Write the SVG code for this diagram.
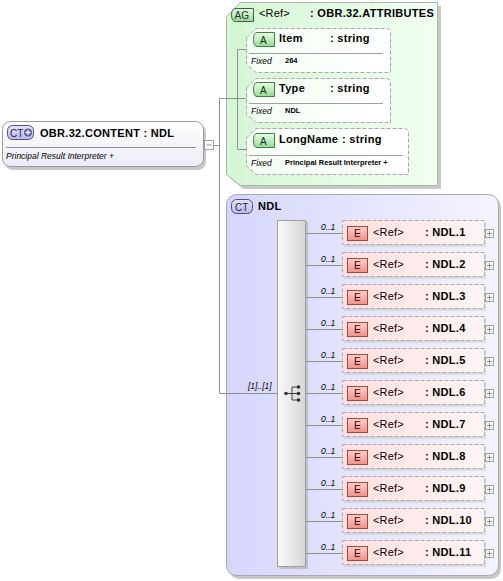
<svg xmlns="http://www.w3.org/2000/svg" width="503" height="581" viewBox="0 0 503 581">
<defs>
<linearGradient id="gMain" x1="0" y1="0" x2="0" y2="1"><stop offset="0" stop-color="#ffffff"/><stop offset="1" stop-color="#ececf8"/></linearGradient>
<linearGradient id="gAG" x1="0" y1="0" x2="1" y2="0"><stop offset="0" stop-color="#d4f6d4"/><stop offset="1" stop-color="#f2fff2"/></linearGradient>
<linearGradient id="gCT" x1="0" y1="0" x2="1" y2="0"><stop offset="0" stop-color="#d6d6fc"/><stop offset="1" stop-color="#f4f4ff"/></linearGradient>
<linearGradient id="gSeq" x1="0" y1="0" x2="1" y2="0"><stop offset="0" stop-color="#fafafa"/><stop offset="1" stop-color="#d6d6d6"/></linearGradient>
<linearGradient id="gEl" x1="0" y1="0" x2="1" y2="0"><stop offset="0" stop-color="#ffe0e0"/><stop offset="1" stop-color="#fff4f4"/></linearGradient>
<linearGradient id="gE" x1="0" y1="0" x2="0" y2="1"><stop offset="0" stop-color="#ffd0c8"/><stop offset="1" stop-color="#f09088"/></linearGradient>
<linearGradient id="gA" x1="0" y1="0" x2="0" y2="1"><stop offset="0" stop-color="#e8ffe8"/><stop offset="1" stop-color="#98d898"/></linearGradient>
<linearGradient id="gAt" x1="0" y1="0" x2="1" y2="0"><stop offset="0" stop-color="#f4fff4"/><stop offset="1" stop-color="#ffffff"/></linearGradient>
<linearGradient id="gCTb" x1="0" y1="0" x2="0" y2="1"><stop offset="0" stop-color="#e4e4ff"/><stop offset="1" stop-color="#b8b8e8"/></linearGradient>
</defs>
<style>
text{font-family:"Liberation Sans",Arial,sans-serif;fill:#000}
.t{font-size:11px;font-weight:bold;letter-spacing:0.3px}
.n{font-size:11px;letter-spacing:0.2px}
.it{font-size:8.5px;font-style:italic}
.fx{font-size:8.5px;font-style:italic}
.fv{font-size:7.5px;font-weight:bold}
.ln{stroke:#909090;stroke-width:1;fill:none}
.dash{stroke:#a8a8a8;stroke-width:1;stroke-dasharray:4,2}
.sh{fill:#c8c8c8}
.elb{fill:url(#gEl)}
.eb{fill:url(#gE);stroke:#a04848;stroke-width:1}
.ab{fill:url(#gA);stroke:#408040;stroke-width:1}
.pl{fill:#fff;stroke:#a0a0a0;stroke-width:1}
.pls{stroke:#909090;stroke-width:1}
</style>

<g id="main">
<rect x="5" y="124" width="201" height="46" rx="8" class="sh"/>
<rect x="2.5" y="121.5" width="201" height="45" rx="8" fill="url(#gMain)" stroke="#9a9a9a"/>
<line x1="6" y1="147.5" x2="196" y2="147.5" stroke="#909090"/>
<rect x="7.5" y="125.5" width="26" height="14" rx="5" fill="url(#gCTb)" stroke="#505080"/>
<text x="10" y="136.5" style="font-size:10px;fill:#202050">CT</text>
<circle cx="28" cy="132.5" r="4" fill="#6060a0"/>
<path d="M25.5,132.5 H30.5 M28,130 V135" stroke="#fff" stroke-width="1.3"/>
<text x="40" y="137" class="t">OBR.32.CONTENT : NDL</text>
<text x="6" y="159" class="it">Principal Result Interpreter +</text>
<rect x="204.5" y="140.5" width="9" height="9" class="pl"/>
<line x1="206.5" y1="145" x2="211.5" y2="145" class="pls"/>
</g>

<g id="attributes">
<path d="M230,20 L243,6 H441 V189 H243 L230,178 Z" class="sh"/>
<path d="M226.5,16.5 L240.5,2.5 H437.5 V185.5 H240.5 L226.5,174.5 Z" fill="url(#gAG)" stroke="#a8b8a8"/>
<path d="M236,8.5 H253.5 V21.5 H236 Q231.5,21.5 231.5,15 Q231.5,8.5 236,8.5 Z" fill="url(#gA)" stroke="#406040"/>
<text x="234.5" y="19" style="font-size:10px;fill:#203020">AG</text>
<text x="259" y="17" class="n">&lt;Ref&gt;</text>
<text x="310" y="17" class="t">: OBR.32.ATTRIBUTES</text>
</g>

<g id="attr-item">
<path d="M246.5,38 L256,28.5 H386 Q390.5,28.5 390.5,33 V72.5 H256 L246.5,64 Z" fill="url(#gAt)" class="dash"/>
<path d="M257,32.5 H274.5 V46.5 H257 Q253.5,46.5 253.5,39.5 Q253.5,32.5 257,32.5 Z" class="ab"/>
<text x="260" y="43.5" style="font-size:10px;fill:#103010">A</text>
<text x="279" y="42" class="t">Item</text>
<text x="330" y="42" class="t">: string</text>
<line x1="249" y1="53.5" x2="383" y2="53.5" stroke="#a0a0a0"/>
<text x="251" y="64" class="fx">Fixed</text>
<text x="285" y="63" class="fv">264</text>
</g>

<g id="attr-type">
<path d="M246.5,88 L256,78.5 H386 Q390.5,78.5 390.5,83 V122.5 H256 L246.5,114 Z" fill="url(#gAt)" class="dash"/>
<path d="M257,82.5 H274.5 V96.5 H257 Q253.5,96.5 253.5,89.5 Q253.5,82.5 257,82.5 Z" class="ab"/>
<text x="260" y="93.5" style="font-size:10px;fill:#103010">A</text>
<text x="279" y="92" class="t">Type</text>
<text x="330" y="92" class="t">: string</text>
<line x1="249" y1="103.5" x2="383" y2="103.5" stroke="#a0a0a0"/>
<text x="251" y="114" class="fx">Fixed</text>
<text x="285" y="113" class="fv">NDL</text>
</g>

<g id="attr-longname">
<path d="M246.5,138 L256,128.5 H404 Q408.5,128.5 408.5,133 V174.5 H256 L246.5,166 Z" fill="url(#gAt)" class="dash"/>
<path d="M257,133.5 H274.5 V147.5 H257 Q253.5,147.5 253.5,140.5 Q253.5,133.5 257,133.5 Z" class="ab"/>
<text x="260" y="144.5" style="font-size:10px;fill:#103010">A</text>
<text x="279" y="143" class="t">LongName</text>
<text x="342" y="143" class="t">: string</text>
<line x1="249" y1="155.5" x2="403" y2="155.5" stroke="#a0a0a0"/>
<text x="251" y="166" class="fx">Fixed</text>
<text x="285" y="165" class="fv">Principal Result Interpreter +</text>
</g>

<g id="ndl">
<rect x="229" y="197" width="272" height="382" rx="10" class="sh"/>
<rect x="226.5" y="194.5" width="272" height="381" rx="10" fill="url(#gCT)" stroke="#a8a8b8"/>
<rect x="231.5" y="199.5" width="21" height="14" rx="5" fill="url(#gCTb)" stroke="#505080"/>
<text x="235" y="210.5" style="font-size:10px;fill:#202050">CT</text>
<text x="258" y="210" class="t">NDL</text>
</g>

<g id="sequence">
<rect x="279" y="222" width="29" height="347" fill="#c0c0c0"/>
<rect x="277.5" y="220.5" width="28" height="346" fill="url(#gSeq)" stroke="#a0a0a0"/>
<text x="248" y="389" class="it">[1]..[1]</text>
<path d="M286,393.5 H292 M292,387 V400 M292,387 H298 M292,393.5 H298 M292,400 H298" stroke="#404040" stroke-width="1"/>
<circle cx="286" cy="393.5" r="1.8" fill="#303030"/>
<circle cx="298.5" cy="387" r="1.8" fill="#303030"/>
<circle cx="298.5" cy="393.5" r="1.8" fill="#303030"/>
<circle cx="298.5" cy="400" r="1.8" fill="#303030"/>
</g>

<g id="el1"><rect x="344" y="222" width="142" height="25" class="sh" opacity="0.5"/><rect x="342.5" y="220.5" width="142" height="24" class="elb"/><rect x="342.5" y="220.5" width="142" height="24" fill="none" class="dash"/><rect x="347.5" y="226.5" width="20" height="14" class="eb"/><text x="354" y="237" style="font-size:10px;fill:#400000">E</text><text x="373" y="236" class="n">&lt;Ref&gt;</text><text x="425" y="236" class="t">: NDL.1</text><text x="321" y="230" class="it">0..1</text><rect x="485.5" y="229.5" width="8" height="8" class="pl"/><path d="M487,233.5 H492 M489.5,231 V236" class="pls"/></g>
<g id="el2"><rect x="344" y="254" width="142" height="25" class="sh" opacity="0.5"/><rect x="342.5" y="252.5" width="142" height="24" class="elb"/><rect x="342.5" y="252.5" width="142" height="24" fill="none" class="dash"/><rect x="347.5" y="258.5" width="20" height="14" class="eb"/><text x="354" y="269" style="font-size:10px;fill:#400000">E</text><text x="373" y="268" class="n">&lt;Ref&gt;</text><text x="425" y="268" class="t">: NDL.2</text><text x="321" y="262" class="it">0..1</text><rect x="485.5" y="261.5" width="8" height="8" class="pl"/><path d="M487,265.5 H492 M489.5,263 V268" class="pls"/></g>
<g id="el3"><rect x="344" y="286" width="142" height="25" class="sh" opacity="0.5"/><rect x="342.5" y="284.5" width="142" height="24" class="elb"/><rect x="342.5" y="284.5" width="142" height="24" fill="none" class="dash"/><rect x="347.5" y="290.5" width="20" height="14" class="eb"/><text x="354" y="301" style="font-size:10px;fill:#400000">E</text><text x="373" y="300" class="n">&lt;Ref&gt;</text><text x="425" y="300" class="t">: NDL.3</text><text x="321" y="294" class="it">0..1</text><rect x="485.5" y="293.5" width="8" height="8" class="pl"/><path d="M487,297.5 H492 M489.5,295 V300" class="pls"/></g>
<g id="el4"><rect x="344" y="318" width="142" height="25" class="sh" opacity="0.5"/><rect x="342.5" y="316.5" width="142" height="24" class="elb"/><rect x="342.5" y="316.5" width="142" height="24" fill="none" class="dash"/><rect x="347.5" y="322.5" width="20" height="14" class="eb"/><text x="354" y="333" style="font-size:10px;fill:#400000">E</text><text x="373" y="332" class="n">&lt;Ref&gt;</text><text x="425" y="332" class="t">: NDL.4</text><text x="321" y="326" class="it">0..1</text><rect x="485.5" y="325.5" width="8" height="8" class="pl"/><path d="M487,329.5 H492 M489.5,327 V332" class="pls"/></g>
<g id="el5"><rect x="344" y="350" width="142" height="25" class="sh" opacity="0.5"/><rect x="342.5" y="348.5" width="142" height="24" class="elb"/><rect x="342.5" y="348.5" width="142" height="24" fill="none" class="dash"/><rect x="347.5" y="354.5" width="20" height="14" class="eb"/><text x="354" y="365" style="font-size:10px;fill:#400000">E</text><text x="373" y="364" class="n">&lt;Ref&gt;</text><text x="425" y="364" class="t">: NDL.5</text><text x="321" y="358" class="it">0..1</text><rect x="485.5" y="357.5" width="8" height="8" class="pl"/><path d="M487,361.5 H492 M489.5,359 V364" class="pls"/></g>
<g id="el6"><rect x="344" y="382" width="142" height="25" class="sh" opacity="0.5"/><rect x="342.5" y="380.5" width="142" height="24" class="elb"/><rect x="342.5" y="380.5" width="142" height="24" fill="none" class="dash"/><rect x="347.5" y="386.5" width="20" height="14" class="eb"/><text x="354" y="397" style="font-size:10px;fill:#400000">E</text><text x="373" y="396" class="n">&lt;Ref&gt;</text><text x="425" y="396" class="t">: NDL.6</text><text x="321" y="390" class="it">0..1</text><rect x="485.5" y="389.5" width="8" height="8" class="pl"/><path d="M487,393.5 H492 M489.5,391 V396" class="pls"/></g>
<g id="el7"><rect x="344" y="414" width="142" height="25" class="sh" opacity="0.5"/><rect x="342.5" y="412.5" width="142" height="24" class="elb"/><rect x="342.5" y="412.5" width="142" height="24" fill="none" class="dash"/><rect x="347.5" y="418.5" width="20" height="14" class="eb"/><text x="354" y="429" style="font-size:10px;fill:#400000">E</text><text x="373" y="428" class="n">&lt;Ref&gt;</text><text x="425" y="428" class="t">: NDL.7</text><text x="321" y="422" class="it">0..1</text><rect x="485.5" y="421.5" width="8" height="8" class="pl"/><path d="M487,425.5 H492 M489.5,423 V428" class="pls"/></g>
<g id="el8"><rect x="344" y="446" width="142" height="25" class="sh" opacity="0.5"/><rect x="342.5" y="444.5" width="142" height="24" class="elb"/><rect x="342.5" y="444.5" width="142" height="24" fill="none" class="dash"/><rect x="347.5" y="450.5" width="20" height="14" class="eb"/><text x="354" y="461" style="font-size:10px;fill:#400000">E</text><text x="373" y="460" class="n">&lt;Ref&gt;</text><text x="425" y="460" class="t">: NDL.8</text><text x="321" y="454" class="it">0..1</text><rect x="485.5" y="453.5" width="8" height="8" class="pl"/><path d="M487,457.5 H492 M489.5,455 V460" class="pls"/></g>
<g id="el9"><rect x="344" y="478" width="142" height="25" class="sh" opacity="0.5"/><rect x="342.5" y="476.5" width="142" height="24" class="elb"/><rect x="342.5" y="476.5" width="142" height="24" fill="none" class="dash"/><rect x="347.5" y="482.5" width="20" height="14" class="eb"/><text x="354" y="493" style="font-size:10px;fill:#400000">E</text><text x="373" y="492" class="n">&lt;Ref&gt;</text><text x="425" y="492" class="t">: NDL.9</text><text x="321" y="486" class="it">0..1</text><rect x="485.5" y="485.5" width="8" height="8" class="pl"/><path d="M487,489.5 H492 M489.5,487 V492" class="pls"/></g>
<g id="el10"><rect x="344" y="510" width="142" height="25" class="sh" opacity="0.5"/><rect x="342.5" y="508.5" width="142" height="24" class="elb"/><rect x="342.5" y="508.5" width="142" height="24" fill="none" class="dash"/><rect x="347.5" y="514.5" width="20" height="14" class="eb"/><text x="354" y="525" style="font-size:10px;fill:#400000">E</text><text x="373" y="524" class="n">&lt;Ref&gt;</text><text x="425" y="524" class="t">: NDL.10</text><text x="321" y="518" class="it">0..1</text><rect x="485.5" y="517.5" width="8" height="8" class="pl"/><path d="M487,521.5 H492 M489.5,519 V524" class="pls"/></g>
<g id="el11"><rect x="344" y="542" width="142" height="25" class="sh" opacity="0.5"/><rect x="342.5" y="540.5" width="142" height="24" class="elb"/><rect x="342.5" y="540.5" width="142" height="24" fill="none" class="dash"/><rect x="347.5" y="546.5" width="20" height="14" class="eb"/><text x="354" y="557" style="font-size:10px;fill:#400000">E</text><text x="373" y="556" class="n">&lt;Ref&gt;</text><text x="425" y="556" class="t">: NDL.11</text><text x="321" y="550" class="it">0..1</text><rect x="485.5" y="549.5" width="8" height="8" class="pl"/><path d="M487,553.5 H492 M489.5,551 V556" class="pls"/></g>

<g id="connectors">
<path class="ln" d="M214,145.5 H219.5 M219.5,98.5 V393.5 M219.5,98.5 H246 M237.5,49.5 V149.5 M237.5,49.5 H246 M237.5,149.5 H246 M219.5,393.5 H277"/>
<path class="ln" d="M306,233.5 H342 M306,265.5 H342 M306,297.5 H342 M306,329.5 H342 M306,361.5 H342 M306,393.5 H342 M306,425.5 H342 M306,457.5 H342 M306,489.5 H342 M306,521.5 H342 M306,553.5 H342"/>
</g>
</svg>
